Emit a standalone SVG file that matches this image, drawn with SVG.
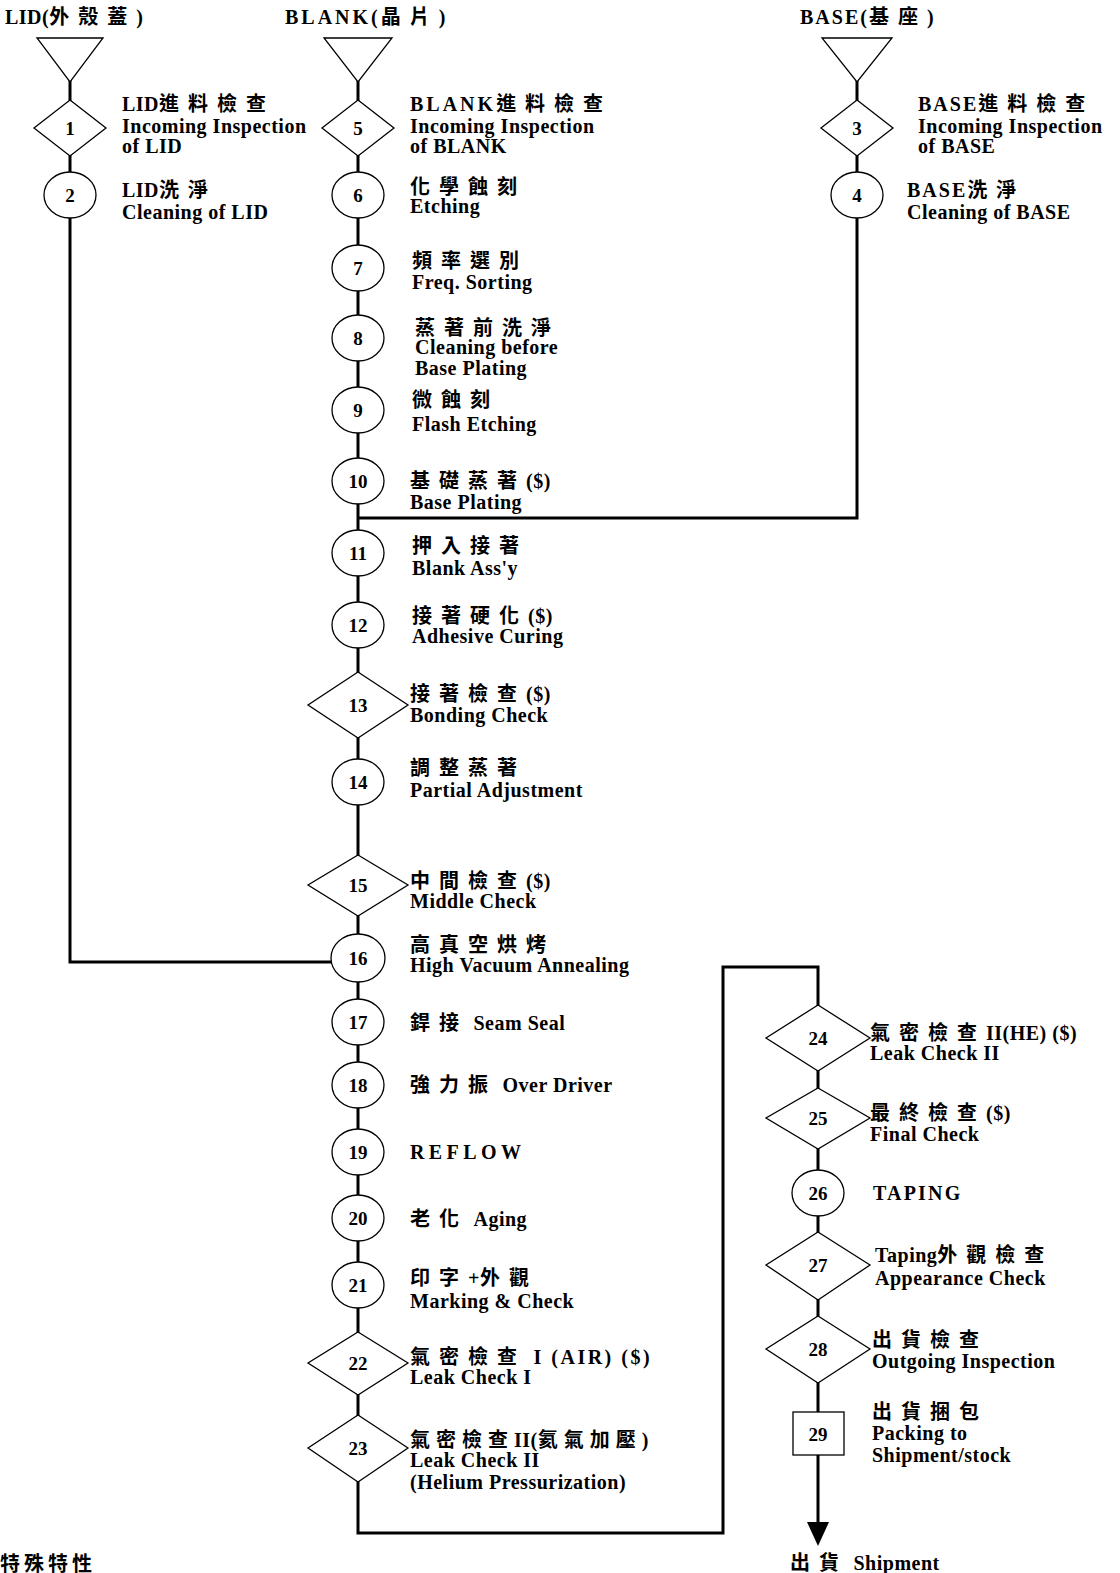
<svg xmlns="http://www.w3.org/2000/svg" width="1120" height="1573" viewBox="0 0 1120 1573">
<style>
.bg{fill:#fff}
.shape{fill:#fff;stroke:#000;stroke-width:1.3}
.conn{fill:none;stroke:#000;stroke-width:3}
.t{font-family:"Liberation Serif","Noto Sans CJK TC",serif;font-weight:bold;font-size:20px;letter-spacing:0.5px;fill:#000}
.c{letter-spacing:9px;font-size:20px}
.num{font-family:"Liberation Serif",serif;font-weight:bold;font-size:19px;fill:#000;text-anchor:middle}
</style>
<defs>
<marker id="arr" markerUnits="userSpaceOnUse" markerWidth="24" markerHeight="22" viewBox="0 0 24 22" refX="0" refY="11" orient="auto">
<path d="M0,0 L24,11 L0,22 z" fill="#000"/>
</marker>
</defs>
<rect class="bg" x="0" y="0" width="1120" height="1573"/>

<g id="connectors">
<path class="conn" d="M70 80 V962 H358"/>
<path class="conn" d="M857 80 V518 H358"/>
<path class="conn" d="M358 80 V1533 H723 V967 H818 V1522" marker-end="url(#arr)"/>
</g>

<g id="titles">
<text class="t" x="5" y="24">LID(<tspan class="c">外殼蓋</tspan>)</text>
<text class="t" x="285" y="24"><tspan style="letter-spacing:3px">BLANK(</tspan><tspan class="c">晶片</tspan>)</text>
<text class="t" x="800" y="24"><tspan style="letter-spacing:2px">BASE(</tspan><tspan class="c">基座</tspan>)</text>
</g>

<g id="src-lid"><polygon class="shape" points="37,38 103,38 70,82"/></g>
<g id="src-blank"><polygon class="shape" points="324,38 392,38 358,82"/></g>
<g id="src-base"><polygon class="shape" points="822,38 892,38 857,82"/></g>

<g id="n1"><polygon class="shape" points="70,100 106,128 70,156 34,128"/><text class="num" x="70" y="135">1</text>
<text class="t" x="122" y="111">LID<tspan class="c">進料檢查</tspan></text>
<text class="t" x="122" y="133">Incoming Inspection</text>
<text class="t" x="122" y="153">of LID</text></g>

<g id="n2"><ellipse class="shape" cx="70" cy="195" rx="26" ry="23"/><text class="num" x="70" y="202">2</text>
<text class="t" x="122" y="197">LID<tspan class="c">洗淨</tspan></text>
<text class="t" x="122" y="219">Cleaning of LID</text></g>

<g id="n5"><polygon class="shape" points="358,100 394,128 358,156 322,128"/><text class="num" x="358" y="135">5</text>
<text class="t" x="410" y="111"><tspan style="letter-spacing:3px">BLANK</tspan><tspan class="c">進料檢查</tspan></text>
<text class="t" x="410" y="133">Incoming Inspection</text>
<text class="t" x="410" y="153">of BLANK</text></g>

<g id="n3"><polygon class="shape" points="857,100 893,128 857,156 821,128"/><text class="num" x="857" y="135">3</text>
<text class="t" x="918" y="111"><tspan style="letter-spacing:2px">BASE</tspan><tspan class="c">進料檢查</tspan></text>
<text class="t" x="918" y="133">Incoming Inspection</text>
<text class="t" x="918" y="153">of BASE</text></g>

<g id="n4"><ellipse class="shape" cx="857" cy="195" rx="26" ry="23"/><text class="num" x="857" y="202">4</text>
<text class="t" x="907" y="197"><tspan style="letter-spacing:2px">BASE</tspan><tspan class="c">洗淨</tspan></text>
<text class="t" x="907" y="219">Cleaning of BASE</text></g>

<g id="n6"><ellipse class="shape" cx="358" cy="195" rx="26" ry="23"/><text class="num" x="358" y="202">6</text>
<text class="t c" x="410" y="194">化學蝕刻</text>
<text class="t" x="410" y="213">Etching</text></g>

<g id="n7"><ellipse class="shape" cx="358" cy="268" rx="26" ry="23"/><text class="num" x="358" y="275">7</text>
<text class="t c" x="412" y="268">頻率選別</text>
<text class="t" x="412" y="289">Freq. Sorting</text></g>

<g id="n8"><ellipse class="shape" cx="358" cy="338" rx="26" ry="23"/><text class="num" x="358" y="345">8</text>
<text class="t c" x="415" y="335">蒸著前洗淨</text>
<text class="t" x="415" y="354">Cleaning before</text>
<text class="t" x="415" y="375">Base Plating</text></g>

<g id="n9"><ellipse class="shape" cx="358" cy="410" rx="26" ry="23"/><text class="num" x="358" y="417">9</text>
<text class="t c" x="412" y="407">微蝕刻</text>
<text class="t" x="412" y="431">Flash Etching</text></g>

<g id="n10"><ellipse class="shape" cx="358" cy="481" rx="26" ry="23"/><text class="num" x="358" y="488">10</text>
<text class="t" x="410" y="488"><tspan class="c">基礎蒸著</tspan>($)</text>
<text class="t" x="410" y="509">Base Plating</text></g>

<g id="n11"><ellipse class="shape" cx="358" cy="553" rx="26" ry="23"/><text class="num" x="358" y="560">11</text>
<text class="t c" x="412" y="553">押入接著</text>
<text class="t" x="412" y="575">Blank Ass'y</text></g>

<g id="n12"><ellipse class="shape" cx="358" cy="625" rx="26" ry="23"/><text class="num" x="358" y="632">12</text>
<text class="t" x="412" y="623"><tspan class="c">接著硬化</tspan>($)</text>
<text class="t" x="412" y="643">Adhesive Curing</text></g>

<g id="n13"><polygon class="shape" points="358,672 408,705 358,738 308,705"/><text class="num" x="358" y="712">13</text>
<text class="t" x="410" y="701"><tspan class="c">接著檢查</tspan>($)</text>
<text class="t" x="410" y="722">Bonding Check</text></g>

<g id="n14"><ellipse class="shape" cx="358" cy="782" rx="26" ry="23"/><text class="num" x="358" y="789">14</text>
<text class="t c" x="410" y="775">調整蒸著</text>
<text class="t" x="410" y="797">Partial Adjustment</text></g>

<g id="n15"><polygon class="shape" points="358,855 408,885 358,916 308,885"/><text class="num" x="358" y="892">15</text>
<text class="t" x="410" y="888"><tspan class="c">中間檢查</tspan>($)</text>
<text class="t" x="410" y="908">Middle Check</text></g>

<g id="n16"><ellipse class="shape" cx="358" cy="958" rx="27" ry="24"/><text class="num" x="358" y="965">16</text>
<text class="t c" x="410" y="952">高真空烘烤</text>
<text class="t" x="410" y="972">High Vacuum Annealing</text></g>

<g id="n17"><ellipse class="shape" cx="358" cy="1022" rx="26" ry="23"/><text class="num" x="358" y="1029">17</text>
<text class="t" x="410" y="1030"><tspan class="c">銲接</tspan> Seam Seal</text></g>

<g id="n18"><ellipse class="shape" cx="358" cy="1085" rx="26" ry="23"/><text class="num" x="358" y="1092">18</text>
<text class="t" x="410" y="1092"><tspan class="c">強力振</tspan> Over Driver</text></g>

<g id="n19"><ellipse class="shape" cx="358" cy="1152" rx="26" ry="23"/><text class="num" x="358" y="1159">19</text>
<text class="t" x="410" y="1159" style="letter-spacing:4.4px">REFLOW</text></g>

<g id="n20"><ellipse class="shape" cx="358" cy="1218" rx="26" ry="23"/><text class="num" x="358" y="1225">20</text>
<text class="t" x="410" y="1226"><tspan class="c">老化</tspan> Aging</text></g>

<g id="n21"><ellipse class="shape" cx="358" cy="1285" rx="26" ry="23"/><text class="num" x="358" y="1292">21</text>
<text class="t" x="410" y="1285"><tspan class="c">印字</tspan>+<tspan class="c">外觀</tspan></text>
<text class="t" x="410" y="1308">Marking &amp; Check</text></g>

<g id="n22"><polygon class="shape" points="358,1332 408,1363 358,1395 308,1363"/><text class="num" x="358" y="1370">22</text>
<text class="t" x="410" y="1364"><tspan class="c">氣密檢查</tspan><tspan style="letter-spacing:2.5px"> I (AIR) ($)</tspan></text>
<text class="t" x="410" y="1384">Leak Check I</text></g>

<g id="n23"><polygon class="shape" points="358,1415 408,1448 358,1482 308,1448"/><text class="num" x="358" y="1455">23</text>
<text class="t" x="410" y="1447"><tspan style="letter-spacing:6px">氣密檢查</tspan>II(<tspan style="letter-spacing:6px">氦氣加壓</tspan>)</text>
<text class="t" x="410" y="1467">Leak Check II</text>
<text class="t" x="410" y="1489">(Helium Pressurization)</text></g>

<g id="n24"><polygon class="shape" points="818,1005 870,1038 818,1071 766,1038"/><text class="num" x="818" y="1045">24</text>
<text class="t" x="870" y="1040"><tspan class="c">氣密檢查</tspan>II(HE) ($)</text>
<text class="t" x="870" y="1060">Leak Check II</text></g>

<g id="n25"><polygon class="shape" points="818,1088 870,1118 818,1149 766,1118"/><text class="num" x="818" y="1125">25</text>
<text class="t" x="870" y="1120"><tspan class="c">最終檢查</tspan>($)</text>
<text class="t" x="870" y="1141">Final Check</text></g>

<g id="n26"><ellipse class="shape" cx="818" cy="1193" rx="26" ry="23"/><text class="num" x="818" y="1200">26</text>
<text class="t" x="873" y="1200" style="letter-spacing:2.2px">TAPING</text></g>

<g id="n27"><polygon class="shape" points="818,1232 870,1265 818,1300 766,1265"/><text class="num" x="818" y="1272">27</text>
<text class="t" x="875" y="1262">Taping<tspan class="c">外觀檢查</tspan></text>
<text class="t" x="875" y="1285">Appearance Check</text></g>

<g id="n28"><polygon class="shape" points="818,1316 870,1349 818,1383 766,1349"/><text class="num" x="818" y="1356">28</text>
<text class="t c" x="872" y="1347">出貨檢查</text>
<text class="t" x="872" y="1368">Outgoing Inspection</text></g>

<g id="n29"><rect class="shape" x="793" y="1412" width="51" height="43"/><text class="num" x="818" y="1441">29</text>
<text class="t c" x="872" y="1419">出貨捆包</text>
<text class="t" x="872" y="1440">Packing to</text>
<text class="t" x="872" y="1462">Shipment/stock</text></g>

<g id="end"><text class="t" x="790" y="1570"><tspan class="c">出貨</tspan> Shipment</text></g>

<g id="note"><text class="t" x="0" y="1571" style="letter-spacing:4px">特殊特性</text></g>
</svg>
